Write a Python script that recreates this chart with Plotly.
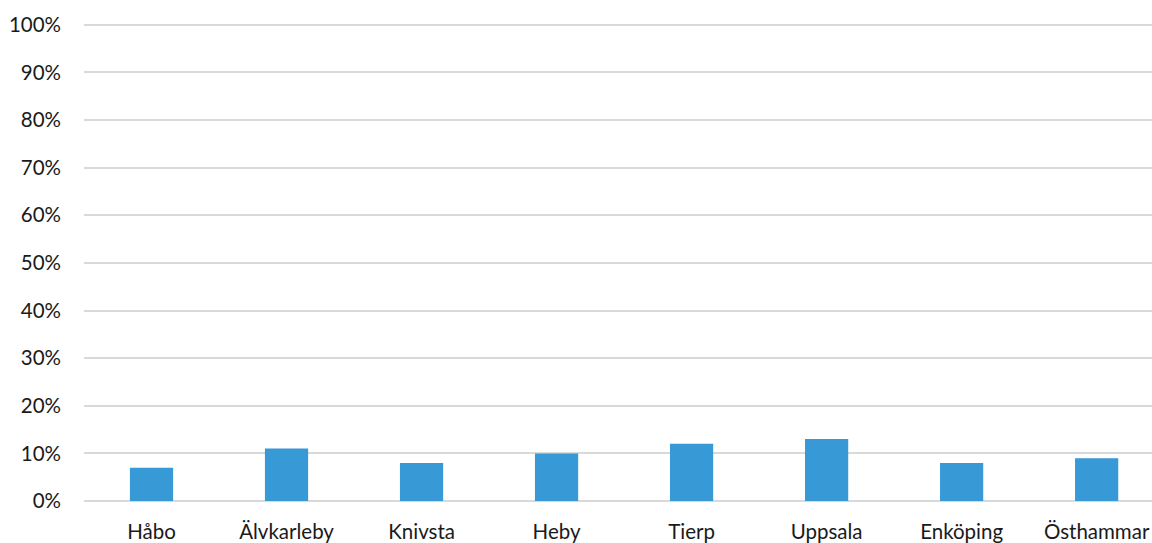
import plotly.graph_objects as go

categories = ["Håbo", "Älvkarleby", "Knivsta", "Heby", "Tierp", "Uppsala", "Enköping", "Östhammar"]
values = [0.07, 0.11, 0.08, 0.10, 0.12, 0.13, 0.08, 0.09]
y_ticks = [0, 0.1, 0.2, 0.3, 0.4, 0.5, 0.6, 0.7, 0.8, 0.9, 1.0]
y_tick_labels = ["0%", "10%", "20%", "30%", "40%", "50%", "60%", "70%", "80%", "90%", "100%"]

fig = go.Figure(go.Bar(
    x=list(range(len(categories))),
    y=values,
    marker=dict(color="#3799D5", line=dict(width=0)),
    width=0.32,
))

font = dict(family="Lato, Carlito, 'Noto Sans', sans-serif", size=20.5, color="#1a1a1a")

fig.update_layout(
    width=1152, height=543,
    margin=dict(l=84, r=0, t=20, b=42, pad=0),
    paper_bgcolor="white", plot_bgcolor="white",
    showlegend=False,
    font=font,
    xaxis=dict(
        tickmode="array",
        tickvals=list(range(len(categories))),
        ticktext=categories,
        range=[-0.5, 7.41],
        showgrid=False, zeroline=False, showline=False,
        ticks="", ticklabelstandoff=16,
        tickfont=font, automargin=False,
    ),
    yaxis=dict(
        range=[0, 1.01],
        tickmode="array",
        tickvals=y_ticks,
        ticktext=y_tick_labels,
        showgrid=True, gridcolor="#D9D9D9", gridwidth=1.6,
        zeroline=True, zerolinecolor="#D9D9D9", zerolinewidth=1.6,
        showline=False, ticks="", ticklabelstandoff=22,
        tickfont=font, automargin=False,
    ),
)

fig.write_html(
    "out.html",
    config={"displayModeBar": False},
    post_script="document.body.style.margin='0';document.body.style.overflow='hidden';",
)
